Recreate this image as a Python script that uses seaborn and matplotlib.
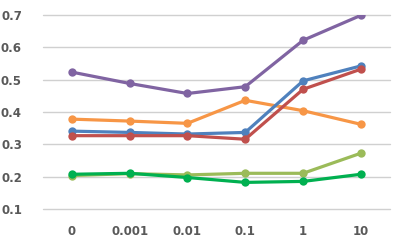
import numpy as np
import pandas as pd
import matplotlib
matplotlib.use('Agg')
import matplotlib.pyplot as plt
import seaborn as sns

sns.set_theme(style='white')
plt.rcParams['font.family'] = ['DejaVu Sans']

# values
categories = ['0', '0.001', '0.01', '0.1', '1', '10']
purple = [0.523, 0.488, 0.457, 0.478, 0.621, 0.698]
blue = [0.341, 0.337, 0.332, 0.337, 0.496, 0.542]
red = [0.327, 0.327, 0.327, 0.316, 0.470, 0.532]
orange = [0.378, 0.372, 0.365, 0.436, 0.404, 0.362]
light_green = [0.204, 0.210, 0.206, 0.211, 0.211, 0.273]
green = [0.208, 0.211, 0.198, 0.183, 0.186, 0.208]
yticks = [0.1, 0.2, 0.3, 0.4, 0.5, 0.6, 0.7]

series = {
    'purple': (purple, '#8064A2'),
    'orange': (orange, '#F79646'),
    'blue': (blue, '#4F81BD'),
    'red': (red, '#C0504D'),
    'light_green': (light_green, '#9BBB59'),
    'green': (green, '#00B050'),
}

df = pd.DataFrame({'x': categories})
for name, (vals, _) in series.items():
    df[name] = vals
long = df.melt(id_vars='x', var_name='series', value_name='value')
palette = {name: c for name, (_, c) in series.items()}

fig = plt.figure(figsize=(4.04, 2.47), dpi=100)
ax = fig.add_axes([0.106, 0.1526, 0.859, 0.788])

sns.lineplot(data=long, x='x', y='value', hue='series', palette=palette,
             marker='o', markersize=6, markeredgewidth=0, linewidth=2.3,
             legend=False, ax=ax, zorder=3)

ax.set_xlim(-0.5, len(categories) - 0.5)
ax.set_ylim(0.1, 0.7)
ax.set_yticks(yticks)
ax.set_yticklabels([f'{v:.1f}' for v in yticks])
for s in ax.spines.values():
    s.set_visible(False)
ax.tick_params(axis='both', length=0, labelsize=8.5, labelcolor='#595959')
ax.tick_params(axis='y', pad=15)
ax.tick_params(axis='x', pad=11)
for lbl in ax.get_xticklabels() + ax.get_yticklabels():
    lbl.set_fontweight('bold')
ax.set_xlabel('')
ax.set_ylabel('')

# horizontal gridlines, one per y tick
for y in yticks:
    ax.axhline(y, color='#D0D0D0', linewidth=1.0, zorder=1, clip_on=False)

fig.savefig('out.png', dpi=100, facecolor='white')
